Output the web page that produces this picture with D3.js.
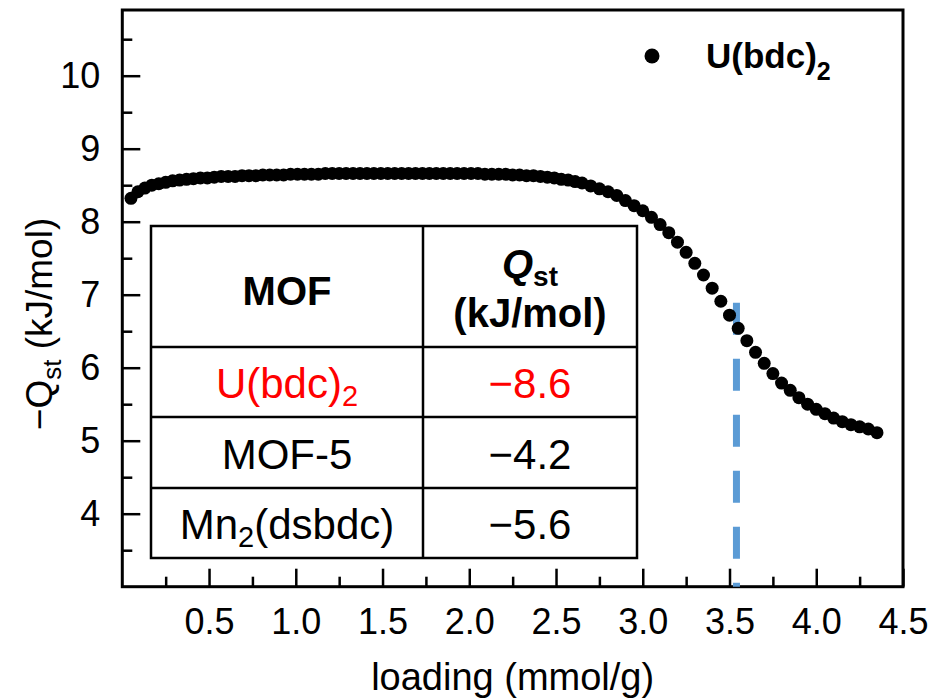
<!DOCTYPE html>
<html>
<head>
<meta charset="utf-8">
<script src="https://cdn.jsdelivr.net/npm/d3@7"></script>
<style>
  body { margin: 0; background: #fff; }
  svg { display: block; font-family: "Liberation Sans", Arial, sans-serif; }
</style>
</head>
<body>
<svg id="chart" width="933" height="699"></svg>
<script>
// loading (mmol/g)
const loading = [
  0.05,0.09,0.13,0.17,0.21,0.25,0.29,0.33,0.37,0.41,
  0.45,0.49,0.53,0.57,0.61,0.65,0.69,0.73,0.77,0.81,
  0.85,0.89,0.93,0.97,1.01,1.05,1.09,1.13,1.17,1.21,
  1.25,1.29,1.33,1.37,1.41,1.45,1.49,1.53,1.57,1.61,
  1.65,1.69,1.73,1.77,1.81,1.85,1.89,1.93,1.97,2.01,
  2.05,2.09,2.13,2.17,2.21,2.25,2.29,2.33,2.37,2.41,
  2.45,2.49,2.53,2.57,2.61,2.65,2.70,2.75,2.80,2.85,
  2.90,2.95,3.00,3.05,3.10,3.15,3.20,3.25,3.30,3.35,
  3.40,3.45,3.50,3.55,3.60,3.65,3.70,3.75,3.80,3.85,
  3.90,3.95,4.00,4.05,4.10,4.15,4.20,4.25,4.30,4.35
]
// -Qst (kJ/mol)
const qst = [
  8.32,8.41,8.46,8.50,8.52,8.54,8.56,8.57,8.58,8.59,
  8.60,8.60,8.61,8.62,8.62,8.62,8.63,8.63,8.63,8.64,
  8.64,8.64,8.64,8.65,8.65,8.65,8.65,8.65,8.66,8.66,
  8.66,8.66,8.66,8.66,8.66,8.66,8.66,8.66,8.66,8.66,
  8.66,8.66,8.66,8.66,8.66,8.66,8.66,8.66,8.66,8.66,
  8.66,8.65,8.65,8.65,8.65,8.64,8.64,8.63,8.63,8.62,
  8.61,8.60,8.58,8.57,8.55,8.53,8.49,8.45,8.41,8.36,
  8.29,8.22,8.15,8.06,7.96,7.85,7.72,7.58,7.43,7.27,
  7.09,6.91,6.72,6.54,6.37,6.21,6.06,5.92,5.79,5.69,
  5.59,5.50,5.43,5.37,5.31,5.26,5.22,5.19,5.16,5.11
]

const xTicks = [0.5,1.0,1.5,2.0,2.5,3.0,3.5,4.0,4.5]
const xMinor = [0.25,0.75,1.25,1.75,2.25,2.75,3.25,3.75,4.25]
const yTicks = [4,5,6,7,8,9,10]
const yMinor = [3.5,4.5,5.5,6.5,7.5,8.5,9.5,10.5]

// dashed marker
const markLoading = 3.54
const markTop = 6.89

// table: [text, subscript, rest]
const mofNames = [["U(bdc)","2",""],["MOF-5","",""],["Mn","2","(dsbdc)"]]
const mofQst = ["\u22128.6","\u22124.2","\u22125.6"]
const mofColors = ["#ff0000","#000","#000"]

const svg = d3.select("#chart")
const x = d3.scaleLinear().domain([0, 4.5]).range([122.3, 903])
const y = d3.scaleLinear().domain([3, 10.9]).range([586.7, 10])
const x0 = x.range()[0], x1 = x.range()[1]
const yBot = y.range()[0], yTop = y.range()[1]

// ---- axes (ticks point inward) ----
const styleAxis = g => {
  g.select(".domain").remove()
  g.selectAll(".tick line").attr("stroke", "#000").attr("stroke-width", 2.5)
  g.selectAll(".tick text").attr("fill", "#000")
    .style("font-size", "36px").style("font-family", "Liberation Sans, Arial, sans-serif")
}
svg.append("g").attr("transform", `translate(0,${yBot})`)
  .call(d3.axisBottom(x).tickValues(xTicks).tickSize(-18).tickPadding(22).tickFormat(d3.format(".1f")))
  .call(styleAxis)
svg.append("g").attr("transform", `translate(0,${yBot})`)
  .call(d3.axisBottom(x).tickValues(xMinor).tickSize(-10).tickFormat(""))
  .call(styleAxis)
svg.append("g").attr("transform", `translate(${x0},0)`)
  .call(d3.axisLeft(y).tickValues(yTicks).tickSize(-18).tickPadding(22).tickFormat(d3.format("d")))
  .call(styleAxis)
svg.append("g").attr("transform", `translate(${x0},0)`)
  .call(d3.axisLeft(y).tickValues(yMinor).tickSize(-10).tickFormat(""))
  .call(styleAxis)

// frame
svg.append("rect")
  .attr("x", x0).attr("y", yTop).attr("width", x1 - x0).attr("height", yBot - yTop)
  .attr("fill", "none").attr("stroke", "#000").attr("stroke-width", 3)

// axis titles
svg.append("text")
  .attr("x", (x0 + x1) / 2).attr("y", 690)
  .attr("text-anchor", "middle").style("font-size", "38px")
  .text("loading (mmol/g)")

const yl = svg.append("text")
  .attr("transform", "translate(52,324) rotate(-90)")
  .attr("text-anchor", "middle").style("font-size", "37px")
yl.append("tspan").text("\u2212Q")
yl.append("tspan").attr("dy", 9).style("font-size", "26px").text("st")
yl.append("tspan").attr("dy", -9).text(" (kJ/mol)")

// ---- table ----
const tLeft = 151, tMid = 423, tRight = 637
const rowY = [226, 347, 417, 488, 558]
const tbl = svg.append("g")
tbl.append("rect").attr("x", tLeft).attr("y", rowY[0])
  .attr("width", tRight - tLeft).attr("height", rowY[4] - rowY[0])
  .attr("fill", "#fff").attr("stroke", "#000").attr("stroke-width", 2.5)
tbl.append("line").attr("x1", tMid).attr("x2", tMid).attr("y1", rowY[0]).attr("y2", rowY[4])
  .attr("stroke", "#000").attr("stroke-width", 2.5)
rowY.slice(1, 4).forEach(ry => {
  tbl.append("line").attr("x1", tLeft).attr("x2", tRight).attr("y1", ry).attr("y2", ry)
    .attr("stroke", "#000").attr("stroke-width", 2.5)
})
const c1 = (tLeft + tMid) / 2, c2 = (tMid + tRight) / 2

tbl.append("text").attr("x", c1).attr("y", 305).attr("text-anchor", "middle")
  .style("font-size", "40px").style("font-weight", "bold").text("MOF")
const qh = tbl.append("text").attr("x", c2).attr("y", 278).attr("text-anchor", "middle")
  .style("font-size", "40px").style("font-weight", "bold")
qh.append("tspan").style("font-style", "italic").text("Q")
qh.append("tspan").attr("dy", 8).style("font-size", "28px").text("st")
tbl.append("text").attr("x", c2).attr("y", 327).attr("text-anchor", "middle")
  .style("font-size", "40px").style("font-weight", "bold").text("(kJ/mol)")

mofNames.forEach((parts, i) => {
  const base = (rowY[i + 1] + rowY[i + 2]) / 2 + 16
  const t = tbl.append("text").attr("x", c1).attr("y", base).attr("text-anchor", "middle")
    .attr("fill", mofColors[i]).style("font-size", "42px")
  t.append("tspan").text(parts[0])
  if (parts[1]) t.append("tspan").attr("dy", 8).style("font-size", "29px").text(parts[1])
  if (parts[2]) t.append("tspan").attr("dy", -8).text(parts[2])
  tbl.append("text").attr("x", c2).attr("y", base).attr("text-anchor", "middle")
    .attr("fill", mofColors[i]).style("font-size", "42px").text(mofQst[i])
})

// ---- dashed marker ----
svg.append("line")
  .attr("x1", x(markLoading)).attr("x2", x(markLoading))
  .attr("y1", y(markTop)).attr("y2", yBot)
  .attr("stroke", "#5b9bd5").attr("stroke-width", 7)
  .attr("stroke-dasharray", "32,24")

// ---- data ----
svg.append("g").selectAll("circle")
  .data(d3.zip(loading, qst))
  .enter().append("circle")
    .attr("cx", d => x(d[0]))
    .attr("cy", d => y(d[1]))
    .attr("r", 6.5)
    .attr("fill", "#000")

// legend
svg.append("circle").attr("cx", 652).attr("cy", 56).attr("r", 7.5).attr("fill", "#000")
const lg = svg.append("text").attr("x", 706).attr("y", 68)
  .style("font-size", "35px").style("font-weight", "bold")
lg.append("tspan").text("U(bdc)")
lg.append("tspan").attr("dy", 12).style("font-size", "25px").text("2")
</script>
</body>
</html>
